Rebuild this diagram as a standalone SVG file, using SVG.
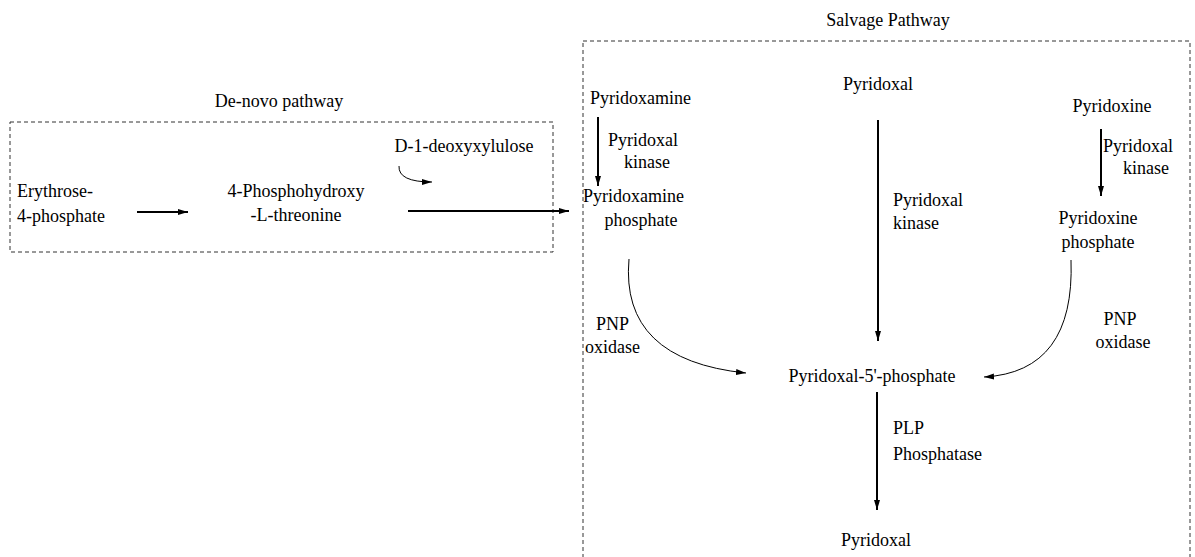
<svg xmlns="http://www.w3.org/2000/svg" width="1195" height="557" viewBox="0 0 1195 557" font-family="'Liberation Serif', 'DejaVu Serif', serif">
<style>
text{font-family:'Liberation Serif','DejaVu Serif',serif;font-size:18px;fill:#000}
.box{fill:none;stroke:#333;stroke-width:1;stroke-dasharray:4,3}
.a{fill:none;stroke:#000;stroke-width:2}
.c{fill:none;stroke:#000;stroke-width:1}
.m{text-anchor:middle}
</style>
<defs>
<marker id="ah" viewBox="0 0 10 10" refX="10" refY="5" markerWidth="10" markerHeight="10" markerUnits="userSpaceOnUse" orient="auto"><path d="M0,2 L10,5 L0,8 z" fill="#000"/></marker>
</defs>
<rect width="1195" height="557" fill="#fff"/>
<g id="denovo-box"><rect class="box" x="10" y="122" width="543" height="130"/><text class="m" x="279" y="107">De-novo pathway</text></g>
<g id="salvage-box"><rect class="box" x="583" y="41" width="607" height="530"/><text class="m" x="888" y="26">Salvage Pathway</text></g>
<g id="erythrose"><text x="17" y="197">Erythrose-</text><text x="17" y="222">4-phosphate</text></g>
<g id="phosphohydroxy"><text class="m" x="296" y="197">4-Phosphohydroxy</text><text class="m" x="296" y="221">-L-threonine</text></g>
<g id="deoxyxylulose"><text class="m" x="464" y="152">D-1-deoxyxylulose</text></g>
<g id="pyridoxamine"><text x="590" y="104">Pyridoxamine</text></g>
<g id="pyridoxal-top"><text class="m" x="878" y="90">Pyridoxal</text></g>
<g id="pyridoxine"><text class="m" x="1112" y="112">Pyridoxine</text></g>
<g id="pyridoxamine-phosphate"><text x="583" y="202">Pyridoxamine</text><text class="m" x="641" y="226">phosphate</text></g>
<g id="pyridoxine-phosphate"><text class="m" x="1098" y="224">Pyridoxine</text><text class="m" x="1098" y="248">phosphate</text></g>
<g id="plp"><text class="m" x="872" y="382">Pyridoxal-5'-phosphate</text></g>
<g id="pyridoxal-bottom"><text class="m" x="876" y="546">Pyridoxal</text></g>
<g id="connectors">
<line class="a" x1="137" y1="212" x2="188" y2="212" marker-end="url(#ah)"/>
<line class="a" x1="408" y1="211" x2="569" y2="211" marker-end="url(#ah)"/>
<path class="c" d="M399,166 Q398,182 432,182" marker-end="url(#ah)"/>
<line class="a" x1="598" y1="117" x2="598" y2="186" marker-end="url(#ah)"/>
<text x="608" y="146">Pyridoxal</text><text class="m" x="647" y="168">kinase</text>
<line class="a" x1="878" y1="120" x2="878" y2="341" marker-end="url(#ah)"/>
<text x="893" y="206">Pyridoxal</text><text x="893" y="229">kinase</text>
<line class="a" x1="1101" y1="129" x2="1101" y2="196" marker-end="url(#ah)"/>
<text x="1103" y="152">Pyridoxal</text><text class="m" x="1146" y="174">kinase</text>
<path class="c" d="M629,259 Q620,360 746,373" marker-end="url(#ah)"/>
<text x="596" y="330">PNP</text><text x="585" y="353">oxidase</text>
<path class="c" d="M1071,260 Q1075,372 984,377" marker-end="url(#ah)"/>
<text class="m" x="1120" y="325">PNP</text><text class="m" x="1123" y="348">oxidase</text>
<line class="a" x1="877" y1="392" x2="877" y2="510" marker-end="url(#ah)"/>
<text x="893" y="434">PLP</text><text x="893" y="460">Phosphatase</text>
</g>
</svg>
